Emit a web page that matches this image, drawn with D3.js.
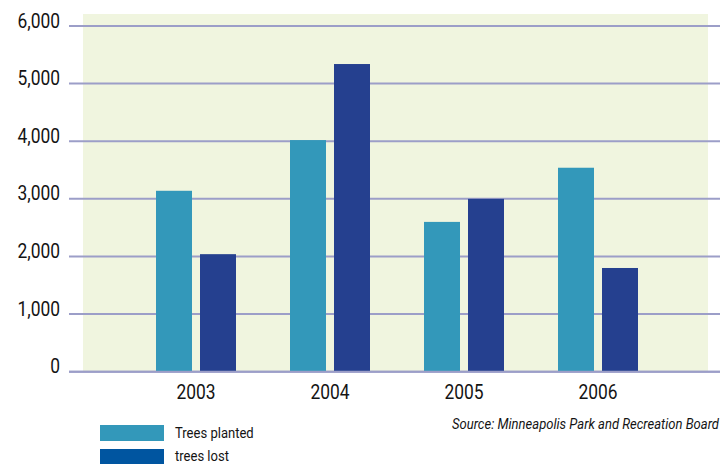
<!DOCTYPE html>
<html>
<head>
<meta charset="utf-8">
<script src="https://cdn.jsdelivr.net/npm/d3@7"></script>
<style>
  body { margin: 0; background: #fff; }
  text { font-family: "Roboto", "Liberation Sans", sans-serif; fill: #141414; }
</style>
</head>
<body>
<div id="chart"></div>
<script>
const years = ["2003", "2004", "2005", "2006"];
const series = ["Trees planted", "trees lost"];
const planted = [3140, 4020, 2600, 3540];
const lost = [2040, 5340, 3000, 1800];
const yTicks = [0, 1000, 2000, 3000, 4000, 5000, 6000];

const W = 720, H = 464;
const narrow = 0.87; // squeeze text horizontally to look like a condensed face
const svg = d3.select('#chart').append('svg').attr('width', W).attr('height', H);

const colors = {planted: '#3398ba', lost: '#25408f', lostLegend: '#0055a0'};

// plot panel
svg.append('rect')
    .attr('x', 83).attr('y', 14)
    .attr('width', 625).attr('height', 358)
    .attr('fill', '#f0f5df');

const y = d3.scaleLinear().domain([0, 6000]).range([371.7, 26]);
const x0 = d3.scaleBand().domain(years).range([129, 665]);
const x1 = d3.scaleBand().domain(series).range([-40, 40]).paddingInner(0.182);

// gridlines + y labels
svg.selectAll('.grid')
    .data(yTicks)
    .enter()
    .append('line')
    .attr('class', 'grid')
    .attr('x1', 69).attr('x2', 720)
    .attr('y1', d => y(d)).attr('y2', d => y(d))
    .attr('stroke', '#9c9ec8')
    .attr('stroke-width', 2);

svg.selectAll('.ylab')
    .data(yTicks)
    .enter()
    .append('text')
    .attr('class', 'ylab')
    .attr('transform', d => `translate(60, ${y(d) + 1.5}) scale(${narrow}, 1)`)
    .attr('text-anchor', 'end')
    .style('font-size', '20px')
    .text(d => d3.format(',')(d));

// bars
const rows = years.map((yr, i) => ({year: yr, vals: [
    {key: series[0], v: planted[i], c: colors.planted},
    {key: series[1], v: lost[i], c: colors.lost}
]}));

const groups = svg.selectAll('.grp')
    .data(rows)
    .enter()
    .append('g')
    .attr('transform', d => `translate(${x0(d.year) + x0.bandwidth() / 2}, 0)`);

groups.selectAll('rect')
    .data(d => d.vals)
    .enter()
    .append('rect')
    .attr('x', d => x1(d.key))
    .attr('width', x1.bandwidth())
    .attr('y', d => y(d.v))
    .attr('height', d => y(0) - y(d.v))
    .attr('fill', d => d.c);

// redraw the baseline over the bars
svg.append('line')
    .attr('x1', 69).attr('x2', 720)
    .attr('y1', y(0)).attr('y2', y(0))
    .attr('stroke', '#9c9ec8')
    .attr('stroke-width', 2);

// x labels
svg.selectAll('.xlab')
    .data(years)
    .enter()
    .append('text')
    .attr('transform', d => `translate(${x0(d) + x0.bandwidth() / 2}, 399) scale(${narrow}, 1)`)
    .attr('text-anchor', 'middle')
    .style('font-size', '20px')
    .text(d => d);

// legend
const legendData = [
    {label: series[0], color: colors.planted},
    {label: series[1], color: colors.lostLegend}
];
const legend = svg.append('g').attr('transform', 'translate(100, 425)');
legend.selectAll('rect')
    .data(legendData)
    .enter()
    .append('rect')
    .attr('x', 0)
    .attr('y', (d, i) => i * 24)
    .attr('width', 64)
    .attr('height', 16)
    .attr('fill', d => d.color);
legend.selectAll('text')
    .data(legendData)
    .enter()
    .append('text')
    .attr('transform', (d, i) => `translate(75, ${i * 23 + 12.5}) scale(${narrow}, 1)`)
    .style('font-size', '15px')
    .text(d => d.label);

// source note
svg.append('text')
    .attr('transform', `translate(719, 429) scale(${narrow}, 1)`)
    .attr('text-anchor', 'end')
    .style('font-size', '15px')
    .style('font-style', 'italic')
    .text('Source: Minneapolis Park and Recreation Board');
</script>
</body>
</html>
